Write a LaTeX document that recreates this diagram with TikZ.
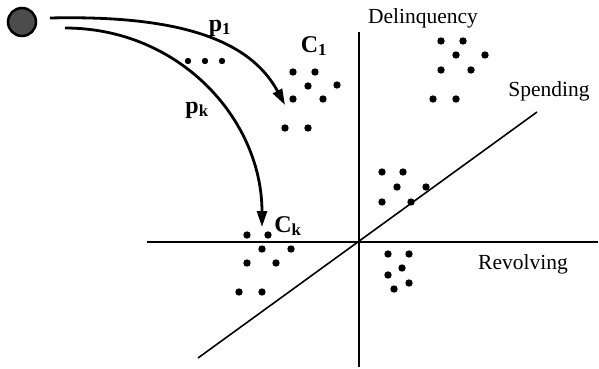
\documentclass[tikz,border=0pt]{standalone}
\usepackage{fontspec}
\setmainfont{Liberation Serif}
\usetikzlibrary{arrows.meta}
\begin{document}
\begin{tikzpicture}[x=1pt,y=-1pt,
  axis/.style={line width=1.8pt},
  dotpt/.style={circle,fill=black,inner sep=0pt,minimum size=7.4pt},
  pathlabel/.style={font=\fontsize{24}{26}\selectfont\bfseries,inner sep=0pt},
  axislabel/.style={font=\fontsize{21.5}{24}\selectfont,inner sep=0pt},
  flow/.style={line width=2.8pt,-{Triangle[length=16pt,width=10pt]}}]
\useasboundingbox (0,0) rectangle (599,369);
% ball
\node[circle,draw=black,line width=2.5pt,fill=black!70,minimum size=28pt,inner sep=0pt] (ball) at (22,22) {};
% axes
\coordinate (o) at (359,242);
\coordinate (vtop) at (359,32);
\coordinate (vbot) at (359,367);
\coordinate (hl) at (147,242);
\coordinate (hr) at (598,242);
\coordinate (dl) at (198,358);
\coordinate (dr) at (537,112);
\draw[axis] (vtop) -- (vbot);
\draw[axis] (hl) -- (hr);
\draw[axis,line width=1.6pt] (dl) -- (dr);
% axis labels
\node[axislabel] (del) at (423,18) {Delinquency};
\node[axislabel] (spe) at (549,91) {Spending};
\node[axislabel] (rev) at (523,264) {Revolving};
% arrows
\coordinate (s1) at (50,18);
\coordinate (e1) at (285,105);
\coordinate (sk) at (65,28);
\coordinate (ek) at (262,227);
\draw[flow] (s1) .. controls (180,15) and (250,40) .. (e1);
\draw[flow] (sk) .. controls (180,28) and (262,120) .. (ek);
% path labels
\node[pathlabel] (p1) at (220,28) {p\textsubscript{1}};
\node[pathlabel] (pk) at (197,110) {p\textsubscript{k}};
\node[pathlabel] (c1) at (314,46) {C\textsubscript{1}};
\node[pathlabel] (ck) at (288,226) {C\textsubscript{k}};
% ellipsis dots
\foreach \x [count=\i] in {188,205,222} \node[dotpt,minimum size=6.4pt] (el\i) at (\x,61) {};
% C1 cluster
\foreach \p [count=\i] in {(293,72),(315,72),(308,86),(337,85),(293,99),(323,99),(285,128),(308,128)}
  \node[dotpt] (a\i) at \p {};
% delinquency cluster
\foreach \p [count=\i] in {(441,41),(463,41),(456,55),(485,55),(441,70),(471,70),(433,99),(456,99)}
  \node[dotpt] (b\i) at \p {};
% spending cluster
\foreach \p [count=\i] in {(382,172),(403,172),(397,187),(426,187),(382,202),(411,202)}
  \node[dotpt] (c\i) at \p {};
% revolving cluster
\foreach \p [count=\i] in {(388,254),(409,254),(402,268),(388,275),(409,283),(394,289)}
  \node[dotpt] (d\i) at \p {};
% Ck cluster
\foreach \p [count=\i] in {(247,235),(268,235),(262,249),(291,249),(247,263),(276,263),(239,292),(262,292)}
  \node[dotpt] (e\i) at \p {};
\end{tikzpicture}
\end{document}
